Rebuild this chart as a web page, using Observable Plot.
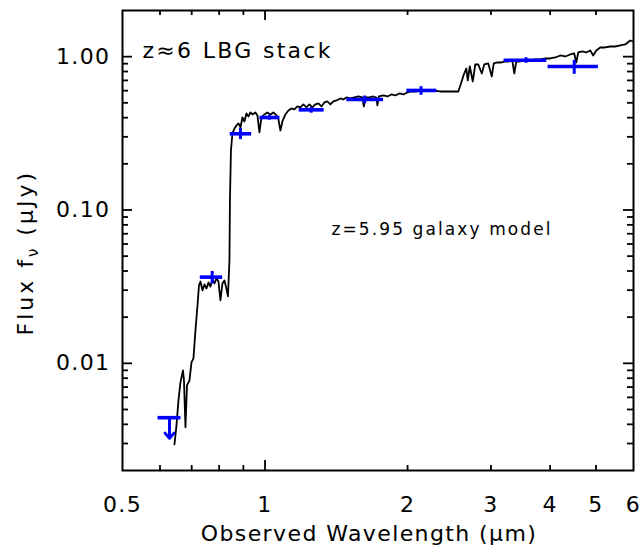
<!DOCTYPE html>
<html><head><meta charset="utf-8">
<script src="https://cdn.jsdelivr.net/npm/d3@7"></script>
<script src="https://cdn.jsdelivr.net/npm/@observablehq/plot@0.6"></script>
<style>
body{margin:0;background:#fff;}
svg{display:block}
svg text{letter-spacing:1.4px}
</style>
</head><body><div id="chart"></div>
<script>
// Model spectrum (observed wavelength in micron, flux density in microJy)
const specWave = [0.6437,0.6501,0.6564,0.6628,0.6709,0.6742,0.6791,0.6842,0.6925,0.6993,
0.7060,0.7129,0.7200,0.7252,0.7305,0.7376,0.7448,0.7521,0.7595,0.7669,
0.7743,0.7819,0.7896,0.7973,0.8050,0.8129,0.8208,0.8289,0.8350,0.8411,
0.8431,0.8472,0.8534,0.8617,0.8702,0.8787,0.8873,0.8959,0.9047,0.9135,
0.9225,0.9315,0.9405,0.9543,0.9637,0.9731,0.9826,0.9970,1.0117,1.0265,
1.0416,1.0569,1.0673,1.0776,1.0881,1.1041,1.1204,1.1368,1.1535,1.1705,
1.1876,1.2051,1.2228,1.2408,1.2589,1.2774,1.2963,1.3153,1.3345,1.3542,
1.3741,1.3942,1.4147,1.4425,1.4636,1.4852,1.5143,1.5440,1.5744,1.6052,
1.6170,1.6288,1.6609,1.6933,1.7183,1.7267,1.7394,1.7776,1.8127,1.8483,
1.8844,1.9215,1.9591,1.9978,2.0369,2.0870,2.1486,2.2339,2.3452,2.4619,
2.5596,2.5972,2.6287,2.6610,2.6806,2.7067,2.7463,2.7799,2.8210,2.8692,
2.9041,2.9614,3.0120,3.0413,3.0938,3.1545,3.2162,3.2796,3.3274,3.3599,
3.3930,3.4595,3.5444,3.6318,3.7210,3.8127,3.9063,4.0025,4.1008,4.2018,
4.3051,4.4111,4.4976,4.5417,4.5863,4.6758,4.7679,4.8614,4.9326,5.0053,
5.1035,5.2288,5.3577,5.4892,5.6245,5.7626,5.9046,5.9910];
const specFlux = [0.00296,0.00394,0.00573,0.00751,0.00899,0.00774,0.00383,0.00718,0.00774,0.01014,
0.01077,0.0164,0.02384,0.03219,0.03418,0.0299,0.03268,0.03077,0.03367,0.03171,
0.03529,0.03317,0.03583,0.03418,0.0257,0.03317,0.0347,0.03077,0.02732,0.0469,
0.1154,0.2445,0.3156,0.3402,0.3559,0.3667,0.3453,0.4012,0.3779,0.4261,
0.4073,0.4325,0.4197,0.4325,0.4135,0.3203,0.4012,0.4197,0.4325,0.4197,
0.4325,0.4135,0.3894,0.3301,0.3779,0.4197,0.4457,0.4593,0.4524,0.4733,
0.4662,0.4877,0.4662,0.4877,0.4662,0.4877,0.4951,0.4733,0.5026,0.5102,
0.4877,0.5102,0.5179,0.5337,0.5257,0.5417,0.5337,0.5417,0.5499,0.5417,
0.4733,0.5417,0.5417,0.5499,0.5417,0.4805,0.5499,0.5583,0.5499,0.5667,
0.5583,0.5753,0.5667,0.5840,0.5928,0.5928,0.6018,0.6018,0.5928,0.5928,
0.5928,0.6786,0.7652,0.8373,0.6993,0.8628,0.6889,0.8891,0.8891,0.7768,
0.8891,0.9026,0.7426,0.9026,0.9163,0.9163,0.9301,0.9301,0.9442,0.7768,
0.9301,0.9301,0.9442,0.9442,0.9584,0.9584,0.9729,0.9729,0.9876,1.0178,
1.0025,1.0331,1.0488,0.9163,1.0646,1.0807,1.0646,1.0971,1.0178,1.0971,
1.1476,1.1476,1.1649,1.1649,1.1826,1.2005,1.2748,1.2558];

// Stacked photometry
const photWave   = [0.7733, 0.8873, 1.0216, 1.2511, 1.6233, 2.1353, 3.5566, 4.4976];
const photWaveLo = [0.7280, 0.8423, 0.9731, 1.1779, 1.4852, 1.9880, 3.1896, 3.9502];
const photWaveHi = [0.8117, 0.9348, 1.0725, 1.3300, 1.7750, 2.3000, 3.9255, 5.0465];
const photFlux   = [0.0365, 0.314, 0.401, 0.450, 0.526, 0.602, 0.948, 0.863];
const photFluxLo = [0.0332, 0.290, 0.388, 0.431, 0.497, 0.564, 0.912, 0.773];
const photFluxHi = [0.0400, 0.343, 0.418, 0.468, 0.558, 0.642, 0.992, 0.954];

// Upper limit
const limWave = [0.6284];
const limWaveLo = [0.5928];
const limWaveHi = [0.6628];
const limFlux = [0.00442];
const limArrowTo = [0.00324];

// Axes
const xTickValues = [0.5, 1, 2, 3, 4, 5, 6];
const xTickLabels = ["0.5", "1", "2", "3", "4", "5", "6"];
const xMajorTicks = [1];
const xMinorTicks = [0.6, 0.7, 0.8, 0.9, 2, 3, 4, 5];
const yTickValues = [0.01, 0.1, 1];
const yTickLabels = ["0.01", "0.10", "1.00"];
const yMajorTicks = [0.01, 0.1, 1];
const yMinorTicks = [0.003,0.004,0.005,0.006,0.007,0.008,0.009,
                     0.02,0.03,0.04,0.05,0.06,0.07,0.08,0.09,
                     0.2,0.3,0.4,0.5,0.6,0.7,0.8,0.9];

const W = 642, H = 546, mL = 122, mR = 9, mT = 10, mB = 76;
const innerW = W - mL - mR, innerH = H - mT - mB;
const blue = "#0000ff";

const spec = specWave.map((w, i) => ({w, f: specFlux[i]}));
const phot = photWave.map((w, i) => ({w, lo: photWaveLo[i], hi: photWaveHi[i], f: photFlux[i], flo: photFluxLo[i], fhi: photFluxHi[i]}));
const lim = limWave.map((w, i) => ({w, lo: limWaveLo[i], hi: limWaveHi[i], f: limFlux[i], to: limArrowTo[i]}));
const xt = xTickValues.map((v, i) => ({v, t: xTickLabels[i]}));
const yt = yTickValues.map((v, i) => ({v, t: yTickLabels[i]}));

const svg = Plot.plot({
  width: W, height: H,
  marginLeft: mL, marginRight: mR, marginTop: mT, marginBottom: mB,
  style: {fontFamily: "DejaVu Sans", fontSize: "22px", background: "white", color: "black"},
  x: {type: "log", domain: [0.5, 6], axis: null},
  y: {type: "log", domain: [0.002, 2], axis: null},
  marks: [
    // ticks (inward)
    Plot.ruleX(xMajorTicks, {x: d => d, insetTop: innerH - 10, stroke: "black", strokeWidth: 1.8}),
    Plot.ruleX(xMinorTicks, {x: d => d, insetTop: innerH - 5, stroke: "black", strokeWidth: 1.8}),
    Plot.ruleX(xMajorTicks, {x: d => d, insetBottom: innerH - 10, stroke: "black", strokeWidth: 1.8}),
    Plot.ruleX(xMinorTicks, {x: d => d, insetBottom: innerH - 5, stroke: "black", strokeWidth: 1.8}),
    Plot.ruleY(yMajorTicks, {y: d => d, insetRight: innerW - 10, stroke: "black", strokeWidth: 1.8}),
    Plot.ruleY(yMinorTicks, {y: d => d, insetRight: innerW - 6, stroke: "black", strokeWidth: 1.8}),
    Plot.ruleY(yMajorTicks, {y: d => d, insetLeft: innerW - 10, stroke: "black", strokeWidth: 1.8}),
    Plot.ruleY(yMinorTicks, {y: d => d, insetLeft: innerW - 6, stroke: "black", strokeWidth: 1.8}),
    // spectrum
    Plot.line(spec, {x: "w", y: "f", stroke: "black", strokeWidth: 1.8, strokeLinejoin: "round"}),
    // photometry
    Plot.link(phot, {x1: "lo", x2: "hi", y1: "f", y2: "f", stroke: blue, strokeWidth: 3.6}),
    Plot.link(phot, {x1: "w", x2: "w", y1: "flo", y2: "fhi", stroke: blue, strokeWidth: 3}),
    Plot.link(lim, {x1: "lo", x2: "hi", y1: "f", y2: "f", stroke: blue, strokeWidth: 3.6}),
    Plot.arrow(lim, {x1: "w", x2: "w", y1: "f", y2: "to", stroke: blue, strokeWidth: 3, headLength: 9, headAngle: 80}),
    // frame
    Plot.frame({stroke: "black", strokeWidth: 2}),
    // tick labels
    Plot.text(xt, {x: "v", text: "t", frameAnchor: "bottom", dy: 34, lineAnchor: "middle", fill: "black", fontSize: 22}),
    Plot.text(yt, {y: "v", text: "t", frameAnchor: "left", dx: -12, textAnchor: "end", lineAnchor: "middle", fill: "black", fontSize: 22}),
    // axis titles
    Plot.text(["Observed Wavelength (μm)"], {frameAnchor: "bottom", dx: -9, dy: 63, lineAnchor: "middle", fill: "black", fontSize: 22}),
    Plot.text(["Flux fν (μJy)"], {frameAnchor: "left", dx: -97, dy: 95, rotate: -90, textAnchor: "start", lineAnchor: "middle", fill: "black", fontSize: 22}),
    // annotations
    Plot.text(["z≈6 LBG stack"], {frameAnchor: "top-left", dx: 20, dy: 40, textAnchor: "start", lineAnchor: "middle", fill: "black", fontSize: 22}),
    Plot.text(["z=5.95 galaxy model"], {frameAnchor: "top-left", dx: 209, dy: 219, textAnchor: "start", lineAnchor: "middle", fill: "black", fontSize: 17})
  ]
});

// subscript nu in the y title, wider spacing for some labels
const sel = d3.select(svg);
sel.selectAll("text").filter(function() { return this.textContent === "Flux fν (μJy)"; })
  .each(function() {
    const t = d3.select(this);
    t.text(null).style("letter-spacing", "3px");
    t.append("tspan").text("Flux f");
    t.append("tspan").attr("font-size", "15px").attr("dy", "5").text("ν");
    t.append("tspan").attr("dy", "-5").text(" (μJy)");
  });
sel.selectAll("text").filter(function() { return this.textContent === "z≈6 LBG stack"; })
  .style("letter-spacing", "2.3px");
sel.selectAll("text").filter(function() { return this.textContent === "z=5.95 galaxy model"; })
  .style("letter-spacing", "2.1px");

document.getElementById("chart").appendChild(svg);
</script>
</body></html>
